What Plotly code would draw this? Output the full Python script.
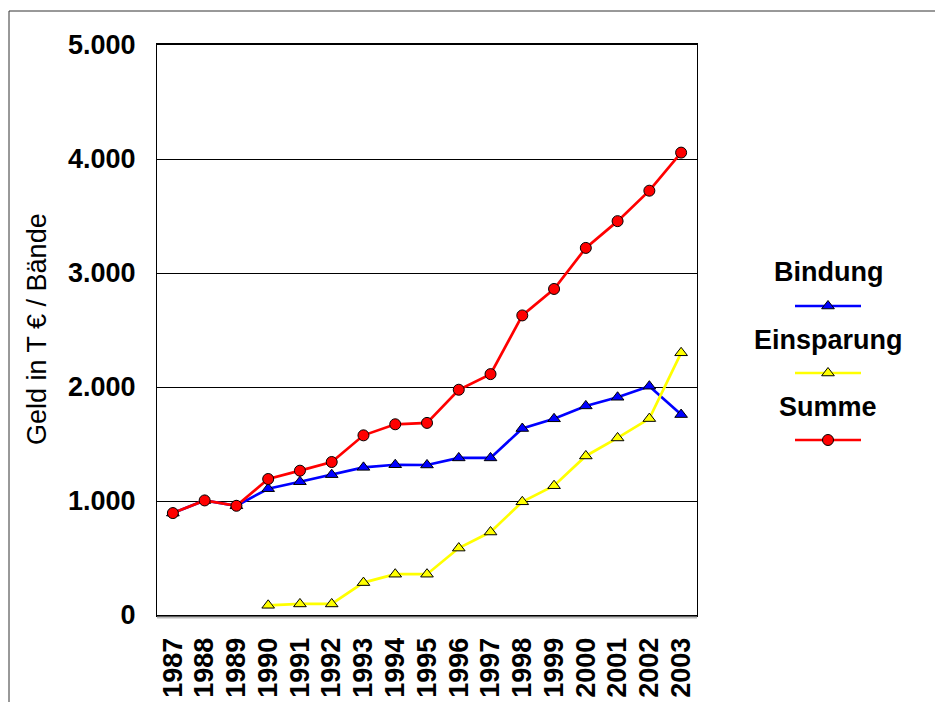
import plotly.graph_objects as go

years = [str(y) for y in range(1987, 2004)]
bindung = [894, 1005, 958, 1108, 1169, 1231, 1295, 1318, 1316, 1378, 1378, 1636, 1721, 1834, 1910, 2007, 1758]
einsparung = [None, None, None, 85, 97, 97, 284, 358, 358, 587, 728, 993, 1134, 1395, 1553, 1723, 2300]
summe = [894, 1005, 958, 1193, 1266, 1342, 1576, 1673, 1685, 1976, 2113, 2628, 2860, 3220, 3455, 3722, 4056]
y_ticks = [0, 1000, 2000, 3000, 4000, 5000]

series = [
    ("Bindung", bindung, "#0000FF", "triangle-up"),
    ("Einsparung", einsparung, "#FFFF00", "triangle-up"),
    ("Summe", summe, "#FF0000", "circle"),
]

W, H = 935, 702
FONT = "Arial, Liberation Sans, sans-serif"

def px_x(p):
    return p / W

def px_y(p):
    return (H - p) / H

fig = go.Figure()
for name, vals, col, sym in series:
    fig.add_trace(go.Scatter(
        x=years, y=vals, name=name, mode="lines+markers",
        line=dict(color=col, width=2.7),
        marker=dict(symbol=sym, size=11, color=col,
                    line=dict(color="black", width=1)),
        cliponaxis=False, showlegend=False,
    ))

# custom legend: label above sample line
leg_text_y = [272, 340, 407]
for i, (name, vals, col, sym) in enumerate(series):
    fig.add_trace(go.Scatter(
        x=[0, 2], y=[2 - i] * 2, mode="lines", xaxis="x2", yaxis="y2",
        line=dict(color=col, width=2.7),
        cliponaxis=False, showlegend=False, hoverinfo="skip",
    ))
    fig.add_trace(go.Scatter(
        x=[1], y=[2 - i], mode="markers", xaxis="x2", yaxis="y2",
        marker=dict(symbol=sym, size=11, color=col, opacity=1,
                    line=dict(color="black", width=1)),
        cliponaxis=False, showlegend=False, hoverinfo="skip",
    ))
    fig.add_annotation(text="<b>%s</b>" % name, x=px_x(828), y=px_y(leg_text_y[i]),
                       xref="paper", yref="paper", showarrow=False,
                       xanchor="center", yanchor="middle",
                       font=dict(family=FONT, size=27, color="black"))

fig.add_annotation(text="Geld in T € / Bände", x=px_x(37), y=px_y(329),
                   xref="paper", yref="paper", showarrow=False, textangle=-90,
                   xanchor="center", yanchor="middle",
                   font=dict(family=FONT, size=27, color="black"))

# outer frame lines
fig.add_shape(type="line", xref="paper", yref="paper", x0=px_x(9), x1=px_x(9),
              y0=0, y1=px_y(11), line=dict(color="#333333", width=1))
fig.add_shape(type="line", xref="paper", yref="paper", x0=px_x(9), x1=1,
              y0=px_y(11), y1=px_y(11), line=dict(color="#333333", width=1))
# shadow under the x axis
fig.add_shape(type="line", xref="x domain", yref="paper", x0=0, x1=1,
              y0=px_y(617.5), y1=px_y(617.5), line=dict(color="#BBBBBB", width=2))

fig.update_layout(
    width=W, height=H,
    margin=dict(l=0, r=0, t=0, b=0),
    paper_bgcolor="white", plot_bgcolor="white",
    separators=",.",
    template="none",
    xaxis=dict(
        type="category", domain=[px_x(157), px_x(697)], range=[-0.5, 16.5],
        tickmode="array", tickvals=years, ticktext=years,
        showgrid=False, zeroline=False, showline=True, linecolor="black", linewidth=2,
        mirror=True, ticks="", tickangle=-90, ticklabelstandoff=10, automargin=False,
        tickfont=dict(family=FONT, size=27, color="black", weight="bold"),
    ),
    yaxis=dict(
        domain=[px_y(615), px_y(45)], range=[0, 5000], tickvals=y_ticks, tickformat=",d",
        showgrid=True, gridcolor="black", gridwidth=1, zeroline=False,
        showline=True, linecolor="black", linewidth=1, mirror=True,
        ticks="", ticklabelstandoff=15, automargin=False,
        tickfont=dict(family=FONT, size=27, color="black", weight="bold"),
    ),
    xaxis2=dict(domain=[px_x(795), px_x(861)], range=[0, 2], visible=False, anchor="y2"),
    yaxis2=dict(domain=[px_y(473.5), px_y(272.5)], range=[-0.5, 2.5], visible=False, anchor="x2"),
)

fig.write_html("out.html")
